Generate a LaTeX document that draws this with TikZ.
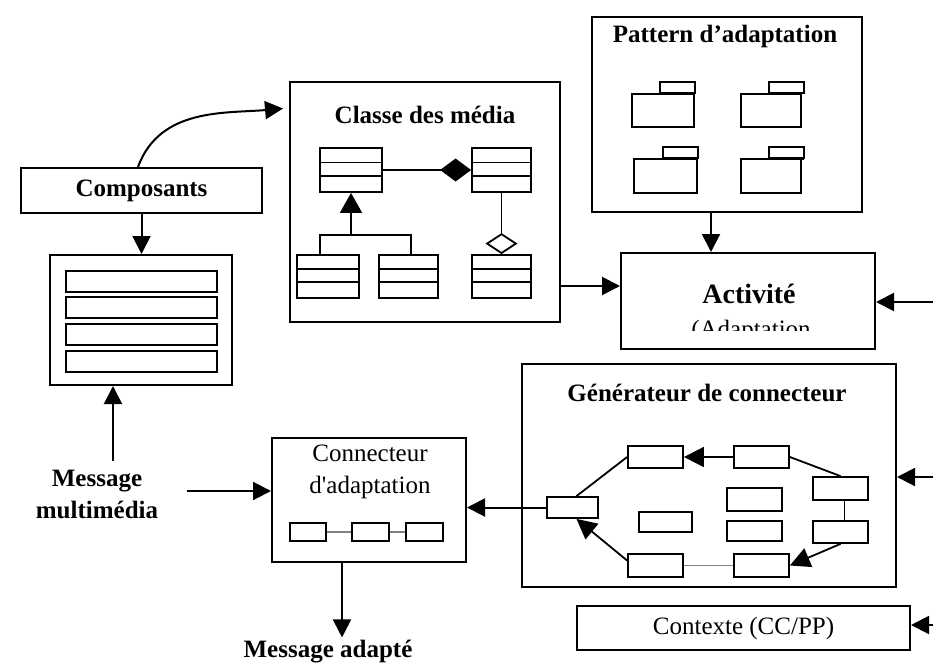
\documentclass[tikz,border=0pt]{standalone}
\usepackage{fontspec}
\setmainfont{Liberation Serif}
\usetikzlibrary{arrows.meta,calc}
\begin{document}
\begin{tikzpicture}[x=1pt,y=-1pt,
  font=\fontsize{25}{32}\selectfont,
  box/.style={draw, line width=2pt, inner sep=0pt, rectangle},
  sbox/.style={draw, line width=1.8pt, inner sep=0pt, rectangle},
  ln/.style={line width=1.8pt},
  arr/.style={line width=2pt, -{Triangle[length=18pt,width=18pt]}},
  garr/.style={line width=1.8pt, -{Triangle[length=20pt,width=20pt]}},
  ttl/.style={font=\fontsize{25}{32}\selectfont\bfseries, inner sep=1pt},
  umlclass/.style={draw, line width=1.8pt, inner sep=0pt, rectangle, path picture={
     \draw[line width=1.8pt] ($(path picture bounding box.north west)!0.33!(path picture bounding box.south west)$) -- ($(path picture bounding box.north east)!0.33!(path picture bounding box.south east)$);
     \draw[line width=1.8pt] ($(path picture bounding box.north west)!0.63!(path picture bounding box.south west)$) -- ($(path picture bounding box.north east)!0.63!(path picture bounding box.south east)$);}},
]
\useasboundingbox (0,0) rectangle (933,664);

% Composants and list
\node[box, minimum width=241pt, minimum height=45pt, font=\fontsize{25}{32}\selectfont\bfseries] (comp) at (141.5,190.5) {Composants};
\node[box, minimum width=182pt, minimum height=130pt] (list) at (141,320) {};
\foreach \y/\n in {281.5/1,307.5/2,334.5/3,361.5/4}
  \node[sbox, minimum width=151pt, minimum height=21pt] (row\n) at (141.5,\y) {};

% Classe des media
\node[box, minimum width=270pt, minimum height=240pt] (classe) at (425,202) {};
\node[ttl] (classeT) at (425,115) {Classe des média};
\node[umlclass, minimum width=62pt, minimum height=44pt] (cA) at (351,170) {};
\node[umlclass, minimum width=59pt, minimum height=44pt] (cB) at (501.5,170) {};
\node[umlclass, minimum width=62pt, minimum height=43pt] (cC) at (328,276.5) {};
\node[umlclass, minimum width=59pt, minimum height=43pt] (cD) at (408.5,276.5) {};
\node[umlclass, minimum width=59pt, minimum height=43pt] (cE) at (501.5,276.5) {};
\draw[ln, -{Diamond[length=31pt,width=23pt]}] (cA.east) -- (cB.west);
\draw[ln, -{Diamond[open,length=21pt,width=32pt]}] (cB.south) -- (cE.north);
\coordinate (jn) at (351,235);
\draw[ln, -{Triangle[length=20pt,width=22pt]}] (jn) -- (cA.south);
\draw[ln] ([xshift=-8pt]cC.north) |- (jn) -| ([xshift=2.5pt]cD.north);

% Pattern d'adaptation
\node[box, minimum width=270pt, minimum height=195pt] (pat) at (727,114.5) {};
\node[ttl] (patT) at (725,36) {Pattern d’adaptation};
\node[sbox, minimum width=62pt, minimum height=33pt] (p1) at (663,110.5) {};
\draw[ln] (p1.north east) rectangle ++(-35,-11);
\node[sbox, minimum width=60pt, minimum height=33pt] (p2) at (771,110.5) {};
\draw[ln] ([xshift=2pt]p2.north east) rectangle ++(-35,-11);
\node[sbox, minimum width=63pt, minimum height=34pt] (p3) at (665.5,176) {};
\draw[ln] (p3.north east) rectangle ++(-35,-11);
\draw[line width=2.8pt] (p3.north east) -- ++(-35,0);
\node[sbox, minimum width=60pt, minimum height=34pt] (p4) at (771,176) {};
\draw[ln] ([xshift=2pt]p4.north east) rectangle ++(-35,-11);
\draw[line width=2.8pt] ([xshift=2pt]p4.north east) -- ++(-35,0);

% Activite
\node[box, minimum width=254pt, minimum height=96pt] (act) at (748,301) {};
\node[font=\fontsize{28}{32}\selectfont\bfseries, inner sep=0pt] (actT) at (749,294) {Activité};
\begin{scope}
  \clip (622,300) rectangle (874,330);
  \node[anchor=base, inner sep=0pt] (actS) at (751,337) {(Adaptation};
\end{scope}
\draw[arr] (classe.east |- 0,286) -- (act.west |- 0,286);
\draw[arr] (pat.south -| 711,0) -- (act.north -| 711,0);
\coordinate (inAct) at (933,302);
\draw[arr] (inAct) -- (act.east |- inAct);

% Composants arrows
\draw[arr] (comp.south) -- (comp.south |- list.north);
\draw[arr, shorten >=6pt] (comp.north -| 138,0) to[out=70,in=185] (classe.west |- 0,108);

% Message multimedia
\node[ttl, align=center] (msg) at (97,494) {Message\\multimédia};
\coordinate (msgtop) at (113,461);
\draw[arr] (msgtop) -- (list.south -| msgtop);

% Connecteur d'adaptation
\node[box, minimum width=194pt, minimum height=124pt] (conn) at (369,500) {};
\node[align=center, inner sep=0pt] (connT) at (370,472) {Connecteur\\d\textquotesingle adaptation};
\node[sbox, minimum width=36pt, minimum height=18pt] (k1) at (308,532) {};
\node[sbox, minimum width=37pt, minimum height=18pt] (k2) at (370.5,532) {};
\node[sbox, minimum width=37pt, minimum height=18pt] (k3) at (424.5,532) {};
\draw[ln, gray] (k1) -- (k2) (k2) -- (k3);
\coordinate (msgout) at (187,491);
\draw[arr] (msgout) -- (conn.west |- msgout);

\node[ttl, anchor=base, inner sep=2pt] (adapte) at (328,657) {Message adapté};
\draw[arr] (conn.south -| 342,0) -- (adapte.north -| 342,0);

% Generateur de connecteur
\node[box, minimum width=374pt, minimum height=223pt] (gen) at (709,475.5) {};
\node[ttl] (genT) at (707,393) {Générateur de connecteur};
\node[sbox, minimum width=51pt, minimum height=21pt] (gL) at (572.5,507.5) {};
\node[sbox, minimum width=55pt, minimum height=22pt] (gTL) at (655.5,457) {};
\node[sbox, minimum width=55pt, minimum height=22pt] (gTR) at (761.5,457) {};
\node[sbox, minimum width=55pt, minimum height=23pt] (gR1) at (840.5,488.5) {};
\node[sbox, minimum width=55pt, minimum height=22pt] (gR2) at (840.5,532) {};
\node[sbox, minimum width=55pt, minimum height=23pt] (gBR) at (761.5,565.5) {};
\node[sbox, minimum width=55pt, minimum height=23pt] (gBL) at (655.5,565.5) {};
\node[sbox, minimum width=53pt, minimum height=20pt] (gC1) at (665.5,522) {};
\node[sbox, minimum width=55pt, minimum height=23pt] (gC2) at (754.5,499.5) {};
\node[sbox, minimum width=55pt, minimum height=20pt] (gC3) at (754.5,531) {};
\draw[ln] ([xshift=4pt]gL.north) -- (gTL.west);
\draw[garr] (gTR.west) -- (gTL.east);
\draw[ln] (gTR.east) -- (gR1.north);
\draw[ln] ([xshift=4pt]gR1.south) -- ([xshift=4pt]gR2.north);
\draw[garr] (gR2.south) -- (gBR.east);
\draw[ln, gray] (gBR.west) -- (gBL.east);
\draw[garr] ([yshift=5pt]gBL.west) -- ([xshift=4pt]gL.south);
\draw[arr] (gL.west) -- (gL.west -| conn.east);
\coordinate (inGen) at (933,477);
\draw[arr] (inGen) -- (gen.east |- inGen);

% Contexte
\node[box, minimum width=333pt, minimum height=44pt] (ctx) at (743.5,628) {Contexte (CC/PP)};
\coordinate (inCtx) at (933,625);
\draw[arr] (inCtx) -- (ctx.east |- inCtx);
\end{tikzpicture}
\end{document}
